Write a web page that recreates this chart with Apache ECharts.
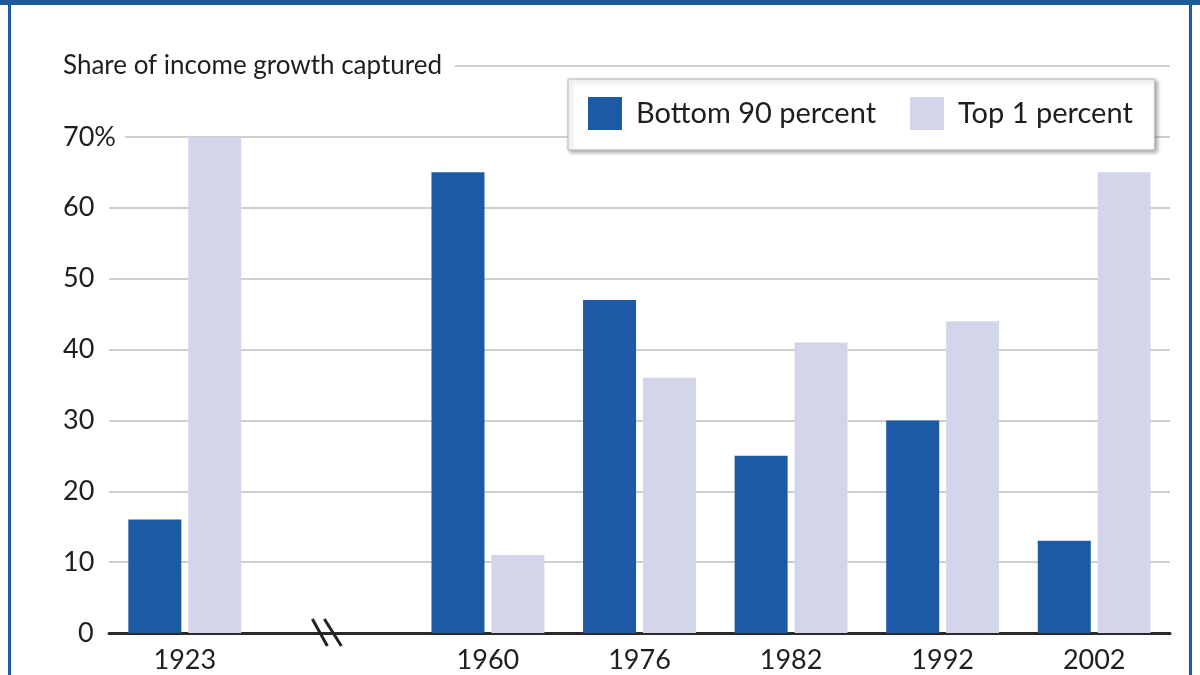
<!DOCTYPE html>
<html>
<head>
<meta charset="utf-8">
<script src="https://cdn.jsdelivr.net/npm/echarts@6/dist/echarts.min.js"></script>
<style>
  html, body { margin: 0; padding: 0; background: #fff; }
  #chart { width: 1200px; height: 675px; }
</style>
</head>
<body>
<div id="chart"></div>
<script>
// data; '' is the gap slot where the axis break sits
const years = ['1923', '', '1960', '1976', '1982', '1992', '2002'];
const bottom90 = [16, '-', 65, 47, 25, 30, 13];
const top1 = [70, '-', 11, 36, 41, 44, 65];
const yTicks = [0, 10, 20, 30, 40, 50, 60, 70, 80];

const FONT = 'Lato';
const INK = '#1e1e1e';
const DARK = '#1c5aa6';
const LIGHT = '#d3d6eb';
const FRAME = '#1d5a98';

const chartDom = document.getElementById('chart');
const myChart = echarts.init(chartDom);

const option = {
    animation: false,
    textStyle: { fontFamily: FONT, color: INK },
    grid: { left: 109, right: 30, top: 66, bottom: 42, containLabel: false },
    legend: {
        left: 568,
        top: 79,
        itemWidth: 34,
        itemHeight: 33,
        itemGap: 34,
        padding: [18, 22, 20, 20],
        backgroundColor: '#fff',
        borderColor: '#b5b5b5',
        borderWidth: 1,
        shadowBlur: 4,
        shadowColor: 'rgba(0,0,0,0.35)',
        shadowOffsetX: 2,
        shadowOffsetY: 2,
        icon: 'rect',
        textStyle: { fontFamily: FONT, fontSize: 29, color: INK, padding: [0, 0, 0, 9] },
        data: ['Bottom 90 percent', 'Top 1 percent']
    },
    xAxis: {
        type: 'category',
        data: years,
        axisLine: { lineStyle: { color: '#2a2a2a', width: 3 } },
        axisTick: { show: false },
        axisLabel: { fontFamily: FONT, fontSize: 27, color: INK, margin: 14 }
    },
    yAxis: {
        type: 'value',
        min: 0,
        max: yTicks[yTicks.length - 1],
        interval: 10,
        axisLine: { show: false },
        axisTick: { show: false },
        splitLine: { lineStyle: { color: '#cfcfcf', width: 2 } },
        axisLabel: {
            align: 'left',
            margin: 46,
            fontFamily: FONT,
            fontSize: 27,
            color: INK,
            formatter: function (v) {
                if (v === 80) return '{t|Share of income growth captured}';
                if (v === 70) return '{k|70%}';
                if (v === 0) return '{z|0}';
                return String(v);
            },
            rich: {
                t: { fontFamily: FONT, fontSize: 26, color: INK, backgroundColor: '#fff', padding: [3, 13, 3, 0] },
                k: { fontFamily: FONT, fontSize: 27, color: INK, backgroundColor: '#fff', padding: [3, 9, 3, 0] },
                z: { fontFamily: FONT, fontSize: 27, color: INK, padding: [0, 0, 0, 15] }
            }
        }
    },
    series: [
        {
            name: 'Bottom 90 percent',
            type: 'bar',
            data: bottom90,
            barWidth: 53,
            barGap: '13%',
            itemStyle: { color: DARK }
        },
        {
            name: 'Top 1 percent',
            type: 'bar',
            data: top1,
            barWidth: 53,
            itemStyle: { color: LIGHT }
        }
    ]
};
myChart.setOption(option);

// frame and the axis-break mark, placed from the axes
const gap = myChart.convertToPixel({ xAxisIndex: 0 }, 1);
const base = myChart.convertToPixel({ yAxisIndex: 0 }, 0);
const bx = gap - 9;
myChart.setOption({
    graphic: [
        { type: 'rect', z: 100, shape: { x: 0, y: 0, width: 1200, height: 5 }, style: { fill: FRAME } },
        { type: 'rect', z: 100, shape: { x: 8, y: 0, width: 3, height: 675 }, style: { fill: FRAME } },
        { type: 'rect', z: 100, shape: { x: 1189, y: 0, width: 3, height: 675 }, style: { fill: FRAME } },
        { type: 'line', z: 100, shape: { x1: bx - 15, y1: base - 14, x2: bx + 0, y2: base + 13 }, style: { stroke: '#222', lineWidth: 3 } },
        { type: 'line', z: 100, shape: { x1: bx - 3, y1: base - 14, x2: bx + 14, y2: base + 13 }, style: { stroke: '#222', lineWidth: 3 } }
    ]
});
</script>
</body>
</html>
